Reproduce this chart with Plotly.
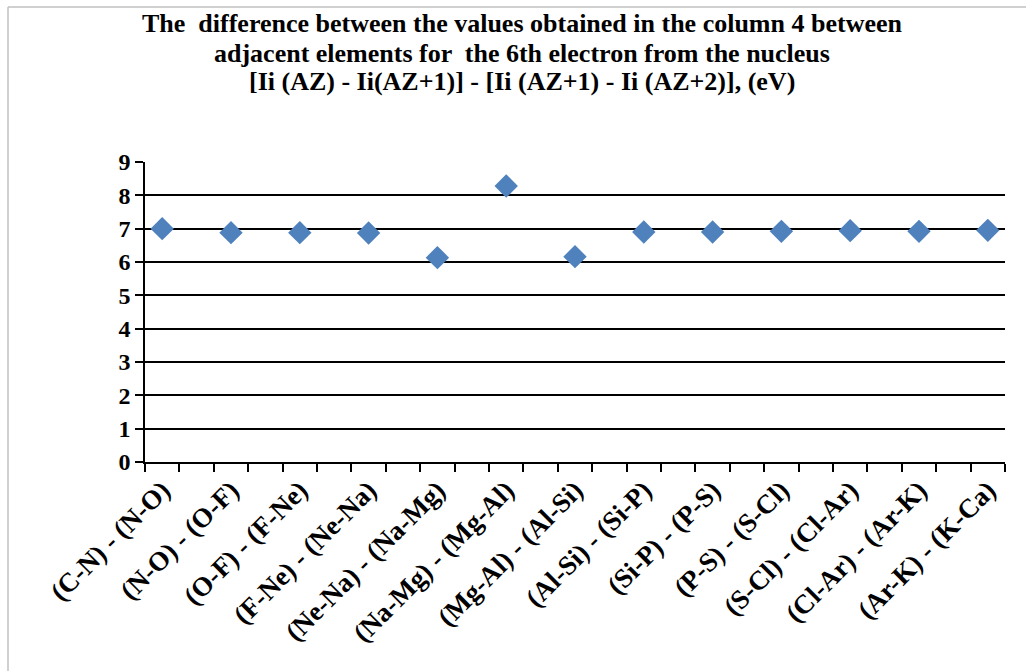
import plotly.graph_objects as go

# Pairs of adjacent-element differences (labelled categories)
pairs = ["(C-N) - (N-O)", "(N-O) - (O-F)", "(O-F) - (F-Ne)", "(F-Ne) - (Ne-Na)",
         "(Ne-Na) - (Na-Mg)", "(Na-Mg) - (Mg-Al)", "(Mg-Al) - (Al-Si)",
         "(Al-Si) - (Si-P)", "(Si-P) - (P-S)", "(P-S) - (S-Cl)",
         "(S-Cl) - (Cl-Ar)", "(Cl-Ar) - (Ar-K)", "(Ar-K) - (K-Ca)"]
# Difference values, eV
diff_ev = [7.00, 6.88, 6.88, 6.87, 6.13, 8.28, 6.16, 6.90, 6.90, 6.92, 6.94, 6.92, 6.95]
y_ticks = [0, 1, 2, 3, 4, 5, 6, 7, 8, 9]
title_lines = [
    "The  difference between the values obtained in the column 4 between",
    "adjacent elements for  the 6th electron from the nucleus",
    "[Ii (AZ) - Ii(AZ+1)] - [Ii (AZ+1) - Ii (AZ+2)], (eV)",
]

# Category slots: each labelled pair sits on every other slot
slot_pos = [2 * i for i in range(len(pairs))]

W, H = 1026, 671
L, R, T, B = 145, 21, 162, 209
pw, ph = W - L - R, H - T - B

def px_x(x):
    return (x - L) / pw

def px_y(y):
    return (H - B - y) / ph

serif = "Liberation Serif, Times New Roman, serif"

fig = go.Figure()
fig.add_trace(go.Scatter(
    x=slot_pos, y=diff_ev, mode="markers",
    marker=dict(symbol="diamond", size=18, color="#4F81BD",
                line=dict(width=0)),
    hoverinfo="x+y", showlegend=False,
))

# Title, one annotation per line
title_y = [23, 53, 81]
annotations = [
    dict(text=t, xref="paper", yref="paper", x=px_x(522), y=px_y(yy),
         xanchor="center", yanchor="middle", showarrow=False,
         font=dict(family=serif, size=26, color="black", weight="bold"))
    for t, yy in zip(title_lines, title_y)
]

fig.update_layout(
    width=W, height=H,
    margin=dict(l=L, r=R, t=T, b=B),
    paper_bgcolor="white", plot_bgcolor="white",
    font=dict(family=serif, color="black"),
    annotations=annotations,
    xaxis=dict(
        range=[-0.5, 2 * len(pairs) - 1.5],
        tickmode="array", tickvals=slot_pos, ticktext=pairs,
        tickangle=-45, ticks="", showgrid=False, zeroline=False,
        showline=True, linecolor="black", linewidth=1.5,
        tickfont=dict(family=serif, size=27, color="black", weight="bold"),
        minor=dict(tickmode="linear", tick0=-0.5, dtick=1, ticks="outside",
                   ticklen=8, tickwidth=1.5, tickcolor="black", showgrid=False),
    ),
    yaxis=dict(
        range=[0, 9], tickmode="array", tickvals=y_ticks,
        ticks="outside", ticklen=8, tickwidth=1.5, tickcolor="black",
        showgrid=True, gridcolor="black", gridwidth=1.5, zeroline=False,
        showline=True, linecolor="black", linewidth=1.5,
        tickfont=dict(family=serif, size=24, color="black", weight="bold"),
    ),
    shapes=[
        dict(type="line", xref="paper", yref="paper",
             x0=px_x(8), x1=px_x(W + 5), y0=px_y(7), y1=px_y(7),
             line=dict(color="#c0c0c0", width=1.5)),
        dict(type="line", xref="paper", yref="paper",
             x0=px_x(8), x1=px_x(8), y0=px_y(7), y1=px_y(H + 5),
             line=dict(color="#c0c0c0", width=1.5)),
    ],
)

fig.write_html("out.html")
